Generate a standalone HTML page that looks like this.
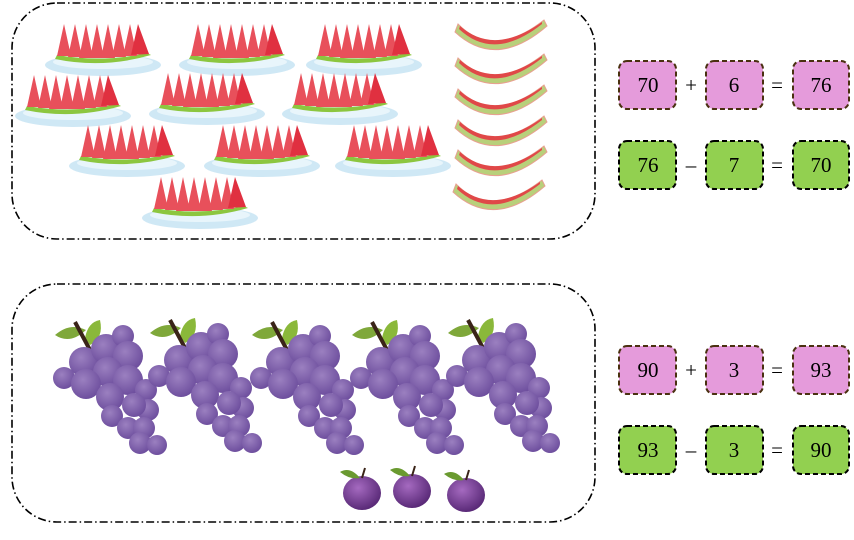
<html><body style="margin:0;background:#fff">
<svg width="854" height="540" xmlns="http://www.w3.org/2000/svg" font-family="Liberation Serif, serif">
<defs>
<radialGradient id="gr" cx="40%" cy="35%" r="65%"><stop offset="0" stop-color="#9b80c0"/><stop offset="1" stop-color="#6e4f9e"/></radialGradient>
<radialGradient id="pl" cx="40%" cy="35%" r="65%"><stop offset="0" stop-color="#a56ac0"/><stop offset="1" stop-color="#5a2a78"/></radialGradient>
<g id="plate">
<ellipse cx="0" cy="8" rx="58" ry="11" fill="#cfe8f5"/>
<ellipse cx="0" cy="5" rx="50" ry="7" fill="#e8f5fb"/>
<path d="M-48 2 Q0 12 48 -2 L44 -4 Q0 6 -46 -2Z" fill="#8cc63f"/>
<g fill="#e8505b">
<path d="M-46 -1 L-39 -33 L-32 -1Z"/><path d="M-35 0 L-28 -33 L-21 0Z"/><path d="M-24 1 L-17 -33 L-10 1Z"/><path d="M-13 1 L-6 -33 L1 1Z"/><path d="M-2 1 L5 -33 L12 1Z"/><path d="M9 0 L16 -33 L23 0Z"/><path d="M20 -1 L27 -33 L34 -1Z"/><path d="M28 -2 L35 -33 L46 -3Z" fill="#e03040"/>
</g>
</g>
<g id="rind">
<path d="M0 -8 Q35 28 86 -12 L89 -6 Q38 38 -3 0Z" fill="#b8d07a" stroke="#e8a090" stroke-width="1"/>
<path d="M2 -6 Q36 24 84 -10 L84 -8 Q36 30 1 -3Z" fill="#e04848"/>
</g>
<g id="bunch">
<path d="M55 335 Q70 322 86 330 Q70 345 55 335Z" fill="#7fa83a"/>
<path d="M85 338 Q88 322 100 320 Q104 338 90 345Z" fill="#8ab83a"/>
<path d="M75 322 L90 350" stroke="#3a2418" stroke-width="4"/>
<g fill="url(#gr)">
<circle cx="64" cy="378" r="11"/><circle cx="84" cy="362" r="15"/><circle cx="106" cy="349" r="15"/><circle cx="123" cy="336" r="11"/><circle cx="128" cy="356" r="15"/><circle cx="108" cy="372" r="15"/><circle cx="86" cy="384" r="15"/><circle cx="128" cy="380" r="15"/><circle cx="146" cy="390" r="11"/><circle cx="110" cy="397" r="14"/><circle cx="148" cy="410" r="11"/><circle cx="112" cy="416" r="11"/><circle cx="128" cy="428" r="11"/><circle cx="134" cy="405" r="12"/><circle cx="144" cy="428" r="11"/><circle cx="140" cy="443" r="11"/><circle cx="157" cy="445" r="10"/>
</g>
</g>
<g id="plum">
<ellipse cx="0" cy="5" rx="19" ry="17" fill="url(#pl)"/>
<path d="M-2 -10 Q-12 -22 -22 -16 Q-12 -8 -2 -10Z" fill="#6a9a30"/>
<path d="M0 -10 L3 -20" stroke="#3a2418" stroke-width="2"/>
</g>
</defs>
<rect x="12" y="3" width="583" height="236" rx="45" fill="none" stroke="#000" stroke-width="1.6" stroke-dasharray="8 3 1.5 3"/>
<rect x="12" y="284" width="583" height="238" rx="45" fill="none" stroke="#000" stroke-width="1.6" stroke-dasharray="8 3 1.5 3"/>
<use href="#plate" x="103" y="57"/><use href="#plate" x="237" y="57"/><use href="#plate" x="364" y="57"/>
<use href="#plate" x="73" y="108"/><use href="#plate" x="207" y="106"/><use href="#plate" x="340" y="106"/>
<use href="#plate" x="127" y="158"/><use href="#plate" x="262" y="158"/><use href="#plate" x="393" y="158"/>
<use href="#plate" x="200" y="210"/>
<use href="#rind" x="458" y="32"/><use href="#rind" x="458" y="66"/><use href="#rind" x="458" y="97"/><use href="#rind" x="458" y="128"/><use href="#rind" x="458" y="158"/><use href="#rind" x="456" y="192"/>
<use href="#bunch" x="0" y="0"/><use href="#bunch" x="95" y="-2"/><use href="#bunch" x="197" y="0"/><use href="#bunch" x="297" y="0"/><use href="#bunch" x="393" y="-2"/>
<use href="#plum" x="362" y="488"/><use href="#plum" x="412" y="486"/><use href="#plum" x="466" y="490"/>
<g stroke-dasharray="5 3" stroke-width="2" font-size="21" text-anchor="middle">
<g fill="#e59bdb" stroke="#4a3010">
<rect x="619" y="61" width="57" height="48" rx="8"/><rect x="706" y="61" width="57" height="48" rx="8"/><rect x="793" y="61" width="56" height="48" rx="8"/>
<rect x="619" y="346" width="57" height="48" rx="8"/><rect x="706" y="346" width="57" height="48" rx="8"/><rect x="793" y="346" width="56" height="48" rx="8"/>
</g>
<g fill="#92d050" stroke="#000">
<rect x="619" y="141" width="57" height="48" rx="8"/><rect x="706" y="141" width="57" height="48" rx="8"/><rect x="793" y="141" width="56" height="48" rx="8"/>
<rect x="619" y="426" width="57" height="48" rx="8"/><rect x="706" y="426" width="57" height="48" rx="8"/><rect x="793" y="426" width="56" height="48" rx="8"/>
</g>
<g stroke="none" fill="#000">
<text x="648" y="92">70</text><text x="691" y="92">+</text><text x="734" y="92">6</text><text x="777" y="92">=</text><text x="821" y="92">76</text>
<text x="648" y="172">76</text><text x="691" y="172">–</text><text x="734" y="172">7</text><text x="777" y="172">=</text><text x="821" y="172">70</text>
<text x="648" y="377">90</text><text x="691" y="377">+</text><text x="734" y="377">3</text><text x="777" y="377">=</text><text x="821" y="377">93</text>
<text x="648" y="457">93</text><text x="691" y="457">–</text><text x="734" y="457">3</text><text x="777" y="457">=</text><text x="821" y="457">90</text>
</g>
</g>
</svg>
</body></html>
